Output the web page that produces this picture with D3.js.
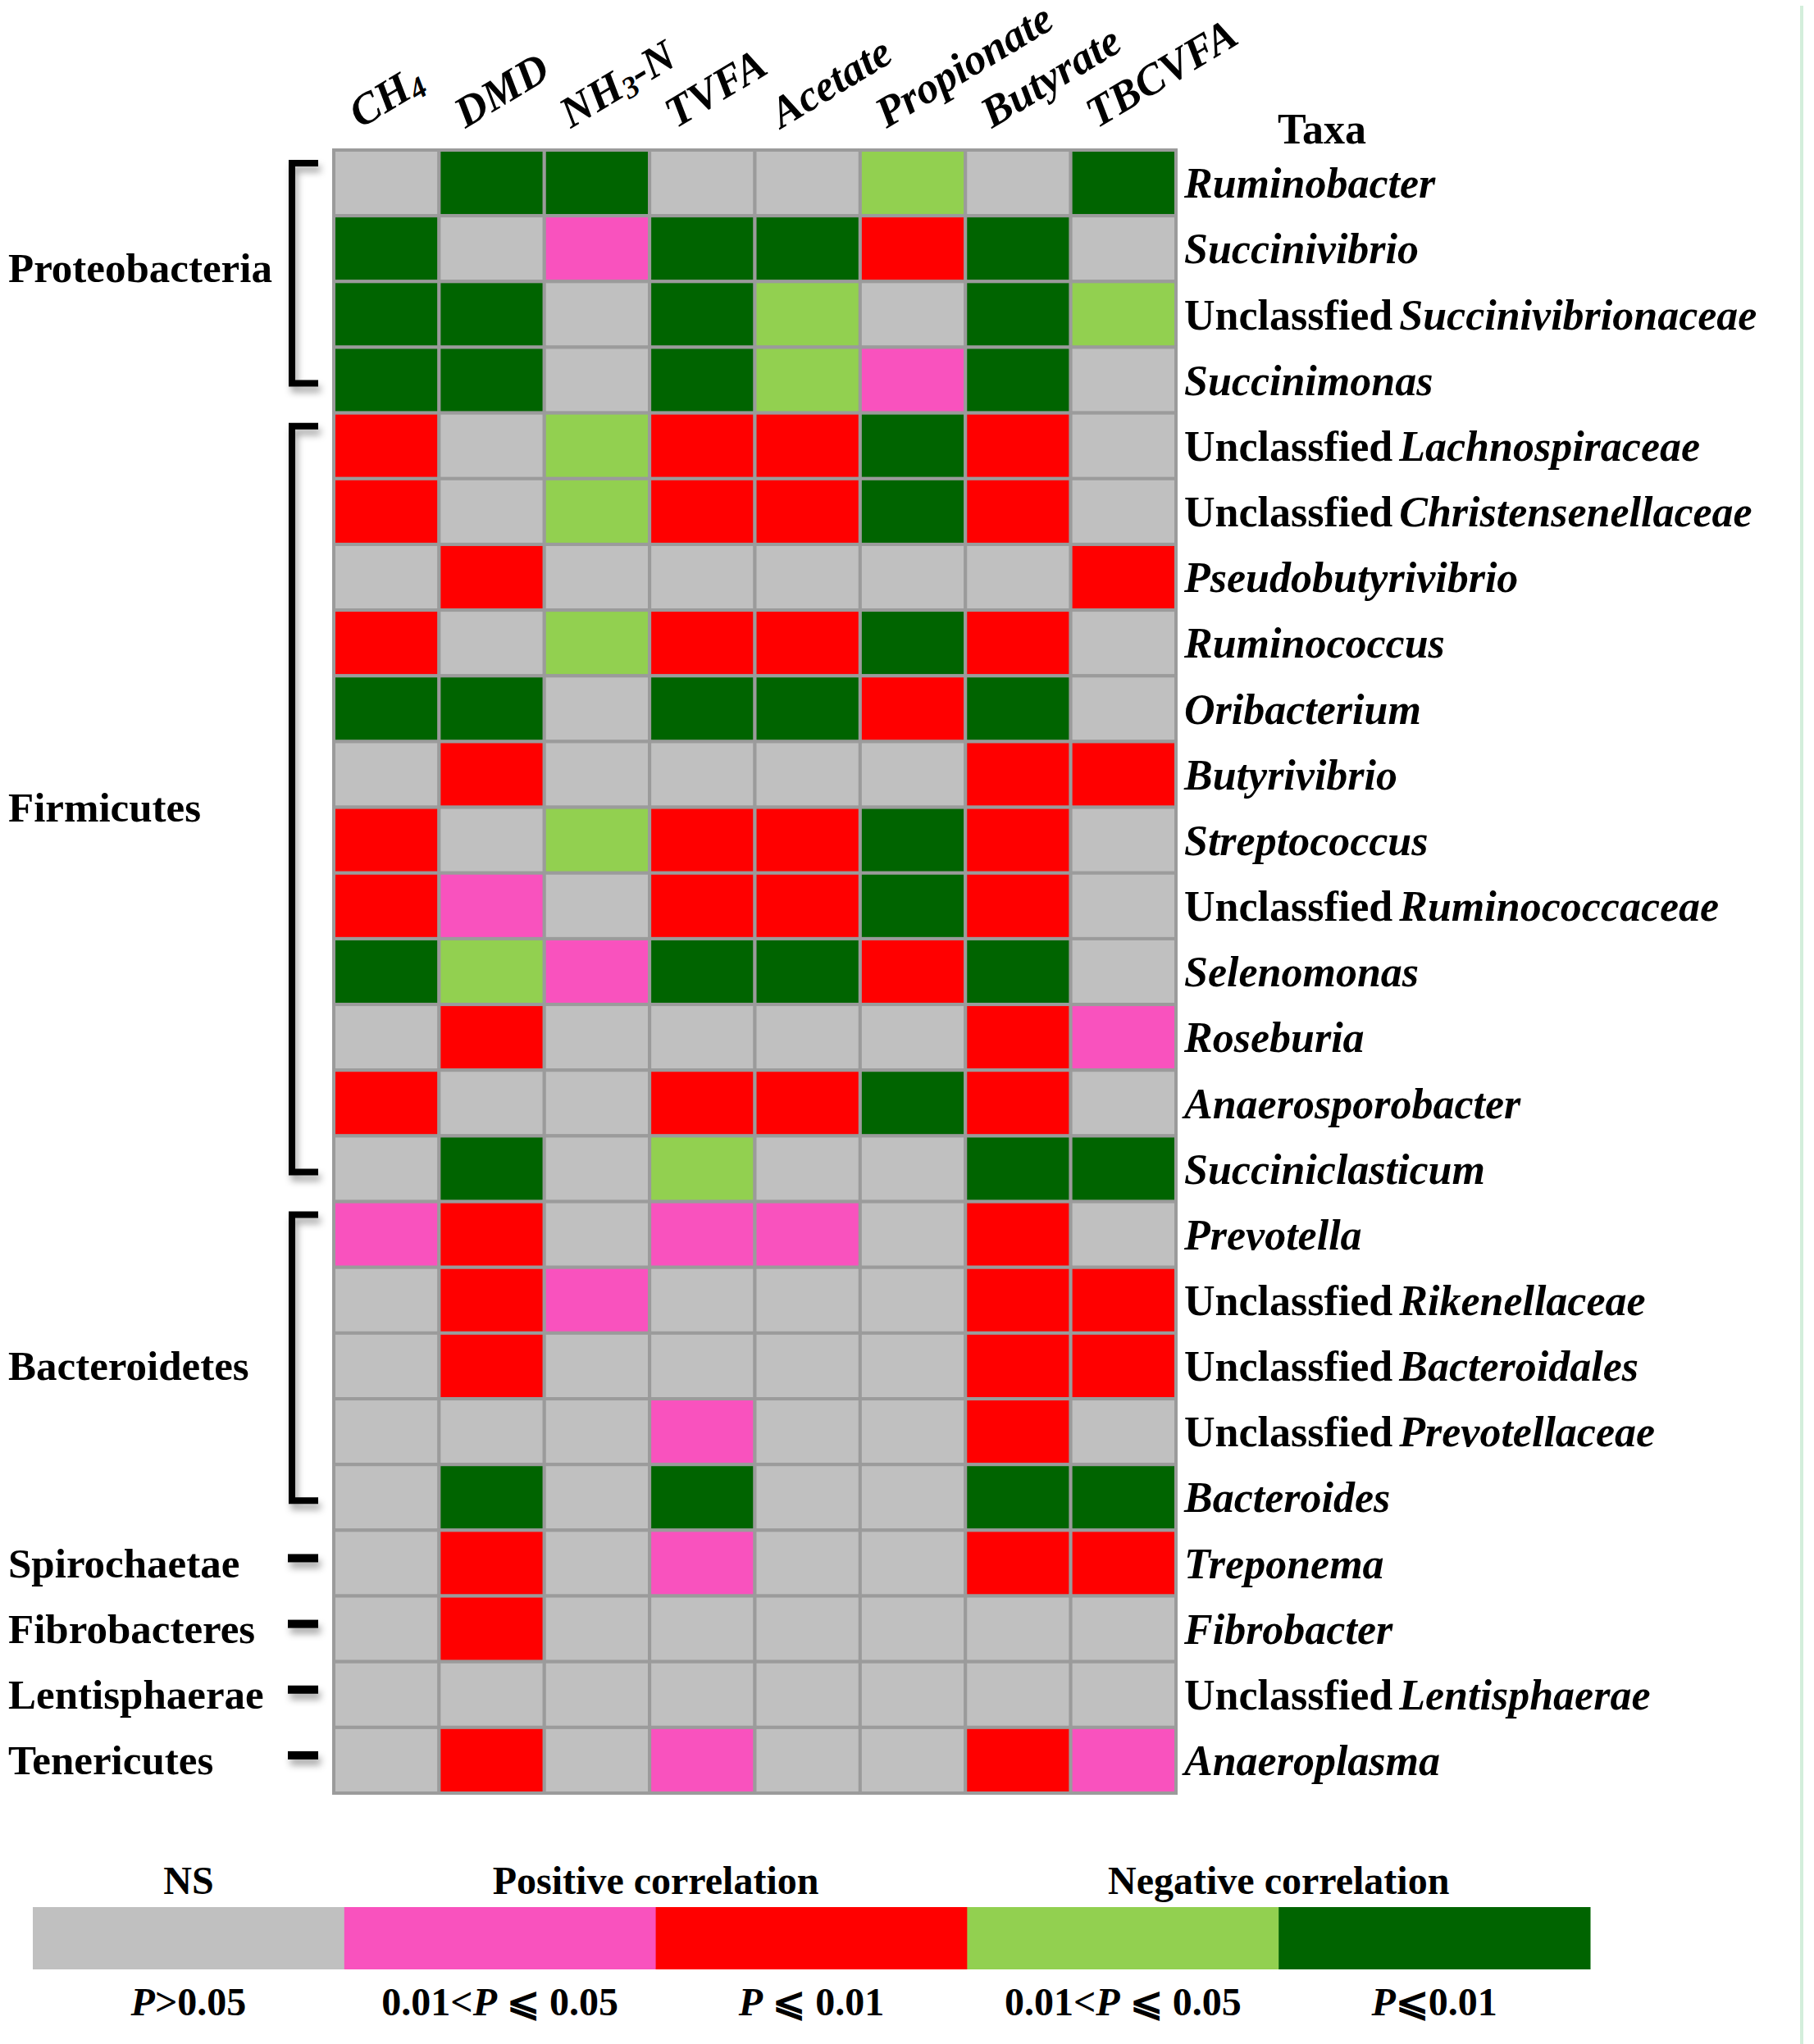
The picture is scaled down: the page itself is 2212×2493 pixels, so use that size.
<!DOCTYPE html>
<html>
<head>
<meta charset="utf-8">
<script src="https://cdn.jsdelivr.net/npm/d3@7"></script>
<style>
  body { margin: 0; background: #fff; }
  text { font-family: "Liberation Serif", "Times New Roman", "DejaVu Serif", serif; font-weight: bold; }
</style>
</head>
<body>
<div id="chart"></div>
<script>
// measured variables (columns)
var measures = ["CH4", "DMD", "NH3-N", "TVFA", "Acetate", "Propionate", "Butyrate", "TBCVFA"];

// taxa (rows), "Unclassfied" prefix kept as in the figure
var taxaPrefix = ["", "", "Unclassfied", "", "Unclassfied", "Unclassfied", "", "", "", "", "", "Unclassfied", "", "", "", "",
                  "", "Unclassfied", "Unclassfied", "Unclassfied", "", "", "", "Unclassfied", ""];
var taxa = ["Ruminobacter", "Succinivibrio", "Succinivibrionaceae", "Succinimonas",
            "Lachnospiraceae", "Christensenellaceae", "Pseudobutyrivibrio", "Ruminococcus", "Oribacterium",
            "Butyrivibrio", "Streptococcus", "Ruminococcaceae", "Selenomonas", "Roseburia", "Anaerosporobacter",
            "Succiniclasticum", "Prevotella", "Rikenellaceae", "Bacteroidales", "Prevotellaceae", "Bacteroides",
            "Treponema", "Fibrobacter", "Lentisphaerae", "Anaeroplasma"];

// phyla and how many taxa rows each one spans
var phyla = ["Proteobacteria", "Firmicutes", "Bacteroidetes", "Spirochaetae", "Fibrobacteres", "Lentisphaerae", "Tenericutes"];
var phylumSize = [4, 12, 5, 1, 1, 1, 1];

// significance class: 0 NS, 1 positive 0.01<P<=0.05, 2 positive P<=0.01, 3 negative 0.01<P<=0.05, 4 negative P<=0.01
var cells = [
    [0,4,4,0,0,3,0,4],
    [4,0,1,4,4,2,4,0],
    [4,4,0,4,3,0,4,3],
    [4,4,0,4,3,1,4,0],
    [2,0,3,2,2,4,2,0],
    [2,0,3,2,2,4,2,0],
    [0,2,0,0,0,0,0,2],
    [2,0,3,2,2,4,2,0],
    [4,4,0,4,4,2,4,0],
    [0,2,0,0,0,0,2,2],
    [2,0,3,2,2,4,2,0],
    [2,1,0,2,2,4,2,0],
    [4,3,1,4,4,2,4,0],
    [0,2,0,0,0,0,2,1],
    [2,0,0,2,2,4,2,0],
    [0,4,0,3,0,0,4,4],
    [1,2,0,1,1,0,2,0],
    [0,2,1,0,0,0,2,2],
    [0,2,0,0,0,0,2,2],
    [0,0,0,1,0,0,2,0],
    [0,4,0,4,0,0,4,4],
    [0,2,0,1,0,0,2,2],
    [0,2,0,0,0,0,0,0],
    [0,0,0,0,0,0,0,0],
    [0,2,0,1,0,0,2,1]
];

// legend
var classColors = ["#c0c0c0", "#f952be", "#ff0000", "#92d050", "#006400"];
var legendHeads = ["NS", "Positive correlation", "Negative correlation"];
var legendHeadAt = [0, 1, 3]; // class index where each heading is centred (edge of two classes for the pairs)
var legendP = [["P", ">0.05"], ["0.01<", "P", " ⩽ 0.05"], ["P", " ⩽ 0.01"], ["0.01<", "P", " ⩽ 0.05"], ["P", "⩽0.01"]];

var W = 2212, H = 2493;
var fs = 52;

var svg = d3.select('#chart').append('svg')
    .attr('width', W)
    .attr('height', H)

var defs = svg.append('defs')
defs.append('filter').attr('id', 'shadow')
    .attr('filterUnits', 'userSpaceOnUse')
    .attr('x', 0).attr('y', 0).attr('width', 600).attr('height', H)
    .append('feDropShadow')
    .attr('dx', 3).attr('dy', 7).attr('stdDeviation', 4)
    .attr('flood-color', '#000').attr('flood-opacity', 0.35)

// scales
var x = d3.scaleBand().domain(measures).range([407, 1434])
var y = d3.scaleBand().domain(d3.range(taxa.length)).range([183, 2187])
var color = d3.scaleOrdinal().domain(d3.range(5)).range(classColors)

// flatten cells
var flat = []
cells.forEach(function (row, i) {
    row.forEach(function (v, j) {
        flat.push({ row: i, col: measures[j], v: v })
    })
})

// heatmap cells
svg.append('g').selectAll('rect')
    .data(flat)
    .enter().append('rect')
        .attr('x', function (d) { return x(d.col) })
        .attr('y', function (d) { return y(d.row) })
        .attr('width', x.bandwidth())
        .attr('height', y.bandwidth())
        .attr('fill', function (d) { return color(d.v) })
        .attr('stroke', '#9b9b9b')
        .attr('stroke-width', 4)

// column labels (rotated)
var colLab = svg.append('g').selectAll('text')
    .data(measures)
    .enter().append('text')
        .attr('transform', function (d) { return 'translate(' + (x(d) + x.bandwidth() / 2 - 32) + ',157) rotate(-31)' })
        .attr('font-size', 53)
        .attr('font-style', 'italic')

colLab.each(function (d) {
    var t = d3.select(this)
    var m = d.match(/^([A-Za-z]+?)(\d)(.*)$/)
    if (m) {
        t.append('tspan').text(m[1])
        t.append('tspan').attr('font-size', 53 * 0.7).attr('dy', 53 * 0.12).text(m[2])
        if (m[3]) t.append('tspan').attr('dy', -53 * 0.12).text(m[3])
    } else {
        t.text(d)
    }
})

// Taxa header
svg.append('text')
    .attr('x', 1612).attr('y', 175)
    .attr('text-anchor', 'middle')
    .attr('font-size', fs)
    .text('Taxa')

// row labels
var rowLab = svg.append('g').selectAll('text')
    .data(taxa)
    .enter().append('text')
        .attr('x', x.range()[1] + 10)
        .attr('y', function (d, i) { return y(i) + y.bandwidth() / 2 + fs * 0.35 })
        .attr('font-size', fs)

rowLab.each(function (d, i) {
    var t = d3.select(this)
    if (taxaPrefix[i]) t.append('tspan').text(taxaPrefix[i])
    t.append('tspan').attr('dx', taxaPrefix[i] ? 8 : 0).attr('font-style', 'italic').text(d)
})

// phylum labels and brackets
var start = 0
phyla.forEach(function (p, k) {
    var n = phylumSize[k]
    var top = y(start), bottom = y(start + n - 1) + y.bandwidth()
    var mid = (top + bottom) / 2
    // the first (4-row) label sits a little above its bracket's centre in the figure
    var shift = k === 0 ? -16 : 0

    svg.append('text')
        .attr('x', 10)
        .attr('y', mid + shift + fs * 0.33)
        .attr('font-size', 51)
        .text(p)

    if (n > 1) {
        var y0 = top + y.bandwidth() * 0.2
        var y1 = bottom - y.bandwidth() * 0.45
        svg.append('path')
            .attr('d', 'M388,' + y0 + 'H356V' + y1 + 'H388')
            .attr('fill', 'none')
            .attr('stroke', '#000')
            .attr('stroke-width', 8)
            .attr('filter', 'url(#shadow)')
    } else {
        svg.append('rect')
            .attr('x', 351).attr('width', 37)
            .attr('y', mid - 11).attr('height', 10)
            .attr('fill', '#000')
            .attr('filter', 'url(#shadow)')
    }
    start += n
})

// legend bar
var lx = d3.scaleBand().domain(d3.range(5)).range([40, 1939])
var legend = svg.append('g')

legend.selectAll('rect')
    .data(d3.range(5))
    .enter().append('rect')
        .attr('x', function (d) { return lx(d) })
        .attr('y', 2326)
        .attr('width', lx.bandwidth() + 0.5)
        .attr('height', 76)
        .attr('fill', function (d) { return color(d) })

legend.selectAll('text.head')
    .data(legendHeads)
    .enter().append('text')
        .attr('class', 'head')
        .attr('x', function (d, i) { return i === 0 ? lx(0) + lx.bandwidth() / 2 : lx(legendHeadAt[i]) + lx.bandwidth() })
        .attr('y', 2310)
        .attr('text-anchor', 'middle')
        .attr('font-size', 48)
        .text(function (d) { return d })

var pl = legend.selectAll('text.p')
    .data(legendP)
    .enter().append('text')
        .attr('class', 'p')
        .attr('x', function (d, i) { return lx(i) + lx.bandwidth() / 2 })
        .attr('y', 2458)
        .attr('text-anchor', 'middle')
        .attr('font-size', 48)

pl.each(function (parts) {
    var t = d3.select(this)
    parts.forEach(function (s) {
        t.append('tspan')
            .attr('font-style', s === 'P' ? 'italic' : 'normal')
            .text(s)
    })
})

// thin green frame line at right edge
svg.append('line')
    .attr('x1', 2197).attr('x2', 2197)
    .attr('y1', 7).attr('y2', H)
    .attr('stroke', '#d3eedb')
    .attr('stroke-width', 4)
</script>
</body>
</html>
